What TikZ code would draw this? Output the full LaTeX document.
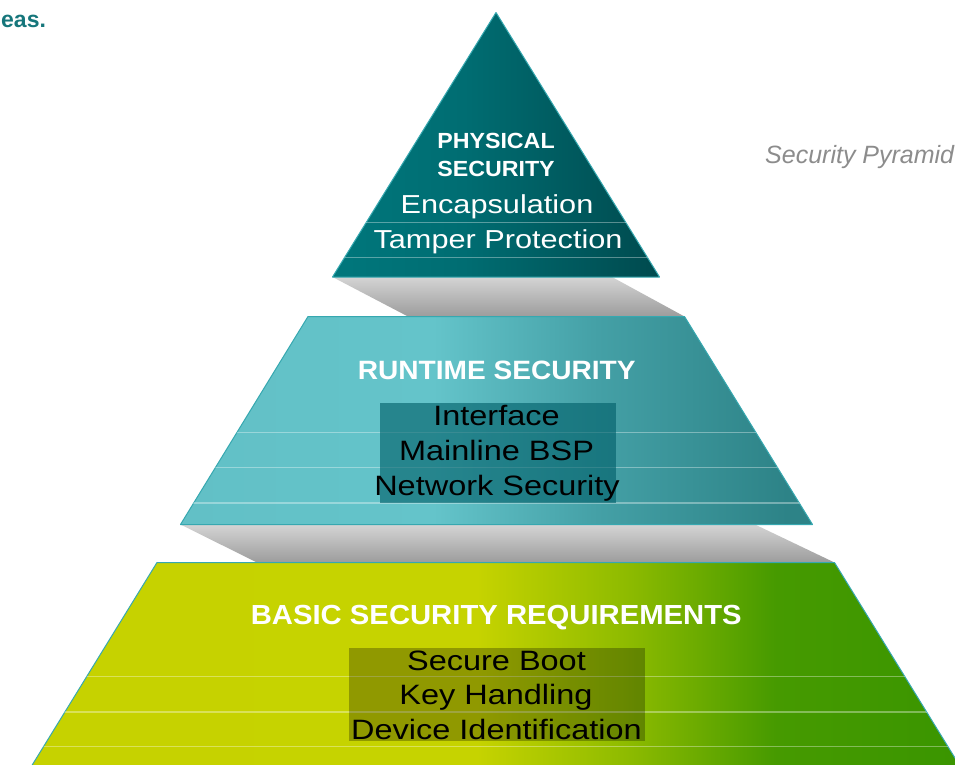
\documentclass[tikz,border=0pt]{standalone}
\usepackage{fontspec}
\setmainfont{Liberation Sans}
\newfontfamily\headfont[FakeStretch=1.06]{Liberation Sans}
\newfontfamily\itemfont[FakeStretch=1.16]{Liberation Sans}
\newfontfamily\tipfont[FakeStretch=1.18]{Liberation Sans}
\usetikzlibrary{calc,positioning}

\definecolor{tipleft}{HTML}{00777C}
\definecolor{tipmid}{HTML}{006D72}
\definecolor{tipright}{HTML}{004A4E}
\definecolor{runleft}{HTML}{62C0C6}
\definecolor{runmid}{HTML}{64C4CA}
\definecolor{rundark}{HTML}{44A0A6}
\definecolor{runright}{HTML}{2D8387}
\definecolor{basleft}{HTML}{C6D200}
\definecolor{basmid}{HTML}{C6D300}
\definecolor{basturn}{HTML}{8EBB00}
\definecolor{basgreen}{HTML}{469A00}
\definecolor{basright}{HTML}{3A9500}
\definecolor{edgeteal}{HTML}{36A8B0}
\definecolor{bandtop}{HTML}{D4D4D4}
\definecolor{bandbottom}{HTML}{9C9C9C}
\definecolor{boxteal}{HTML}{005F69}
\definecolor{headteal}{HTML}{16767B}
\definecolor{notegray}{HTML}{8C8C8C}

\pgfdeclarehorizontalshading{tipshade}{100bp}{color(0bp)=(tipleft); color(25bp)=(tipleft);
    color(45bp)=(tipmid); color(75bp)=(tipright); color(100bp)=(tipright)}
\pgfdeclarehorizontalshading{runshade}{100bp}{color(0bp)=(runleft); color(25bp)=(runleft);
    color(45bp)=(runmid); color(58bp)=(rundark); color(73bp)=(runright); color(100bp)=(runright)}
\pgfdeclarehorizontalshading{basshade}{100bp}{color(0bp)=(basleft); color(25bp)=(basleft);
    color(49bp)=(basmid); color(57bp)=(basturn); color(65bp)=(basgreen); color(75bp)=(basright);
    color(100bp)=(basright)}

\tikzset{layer/.style={
            draw=edgeteal,
            line width=1pt,
            line join=round
        },
        band/.style={
            top color=bandtop,
            bottom color=bandbottom
        },
        stripe/.style={
            draw=white,
            opacity=0.35,
            line width=1.2pt
        },
        itembox/.style={
            fill=#1,
            draw=none,
            inner sep=0pt
        },
        title/.style={
            text=white,
            inner sep=0pt,
            anchor=base,
            font=\headfont\bfseries\fontsize{#1}{#1}\selectfont
        },
        item/.style={
            text=black,
            inner sep=0pt,
            anchor=base,
            font=\itemfont\fontsize{28}{28}\selectfont
        },
        tipitem/.style={
            text=white,
            inner sep=0pt,
            anchor=base,
            font=\tipfont\fontsize{26}{26}\selectfont
        }
    }

\begin{document}
\begin{tikzpicture}[x=1pt,y=-1pt]
        \fill[white] (0,0) rectangle (955,764);
        \useasboundingbox (0,0) rectangle (955,764);

        % corners
        \coordinate (apex) at (496,12.5);
        \coordinate (tipl) at (332.5,277);
        \coordinate (tipr) at (659.5,277);
        \coordinate (runtl) at (308,316.5);
        \coordinate (runtr) at (684.5,316.5);
        \coordinate (runbl) at (180.5,524.5);
        \coordinate (runbr) at (812.5,524.5);
        \coordinate (bastl) at (157,562.5);
        \coordinate (bastr) at (834.5,562.5);
        \coordinate (basbl) at (28.5,771);
        \coordinate (basbr) at (963,771);

        % grey links
        \shade[band] (tipl) -- (612,277) -- (runtr) -- (408,316.5) -- cycle;
        \shade[band] (runbl) -- (755,524.5) -- (bastr) -- (257,562.5) -- cycle;

        % layers
        \shadedraw[layer, shading=tipshade] (apex) -- (tipr) -- (tipl) -- cycle;
        \shadedraw[layer, shading=runshade] (runtl) -- (runtr) -- (runbr) -- (runbl) -- cycle;
        \shadedraw[layer, shading=basshade] (bastl) -- (bastr) -- (basbr) -- (basbl) -- cycle;

        \begin{scope}
            \clip (apex) -- (tipr) -- (tipl) -- cycle;
            \foreach \y in {222.7,257.7} \draw[stripe] (300,\y) -- (700,\y);
        \end{scope}
        \begin{scope}
            \clip (runtl) -- (runtr) -- (runbr) -- (runbl) -- cycle;
            \foreach \y in {432.5,467.5,503} \draw[stripe] (150,\y) -- (850,\y);
        \end{scope}
        \begin{scope}
            \clip (bastl) -- (bastr) -- (basbr) -- (basbl) -- cycle;
            \foreach \y in {676.7,712,746.7} \draw[stripe] (0,\y) -- (955,\y);
        \end{scope}

        \node[itembox=boxteal, fill opacity=0.62, minimum width=236, minimum height=100] (runbox) at (498,452.6) {};
        \node[itembox=black, fill opacity=0.27, minimum width=296.5, minimum height=92.7] (basbox) at (496.8,694.4) {};

        % texts
        \node[title=21.9] (physa) at (496,148) {PHYSICAL};
        \node[title=21.9] (physb) at (496,176.5) {SECURITY};
        \node[tipitem] (encap) at (497,213) {Encapsulation};
        \node[tipitem] (tamper) at (498,248) {Tamper Protection};

        \node[title=26.5] (runtime) at (496.7,379.5) {RUNTIME SECURITY};
        \node[item] (iface) at (496.5,425) {Interface};
        \node[item] (bsp) at (496.5,460) {Mainline BSP};
        \node[item] (netsec) at (497,495) {Network Security};

        \node[title=27.6] (basic) at (496.3,624.3) {BASIC SECURITY REQUIREMENTS};
        \node[item] (boot) at (496.5,670) {Secure Boot};
        \node[item] (keys) at (496,704.5) {Key Handling};
        \node[item] (devid) at (496.5,739.5) {Device Identification};

        \node[anchor=base west, inner sep=0pt, text=notegray, font=\itshape\fontsize{25}{25}\selectfont] (note) at (765,163.3) {Security Pyramid};
        \node[anchor=base west, inner sep=0pt, text=headteal, font=\bfseries\fontsize{23}{23}\selectfont] (head) at (1,27) {eas.};
    \end{tikzpicture}
\end{document}
